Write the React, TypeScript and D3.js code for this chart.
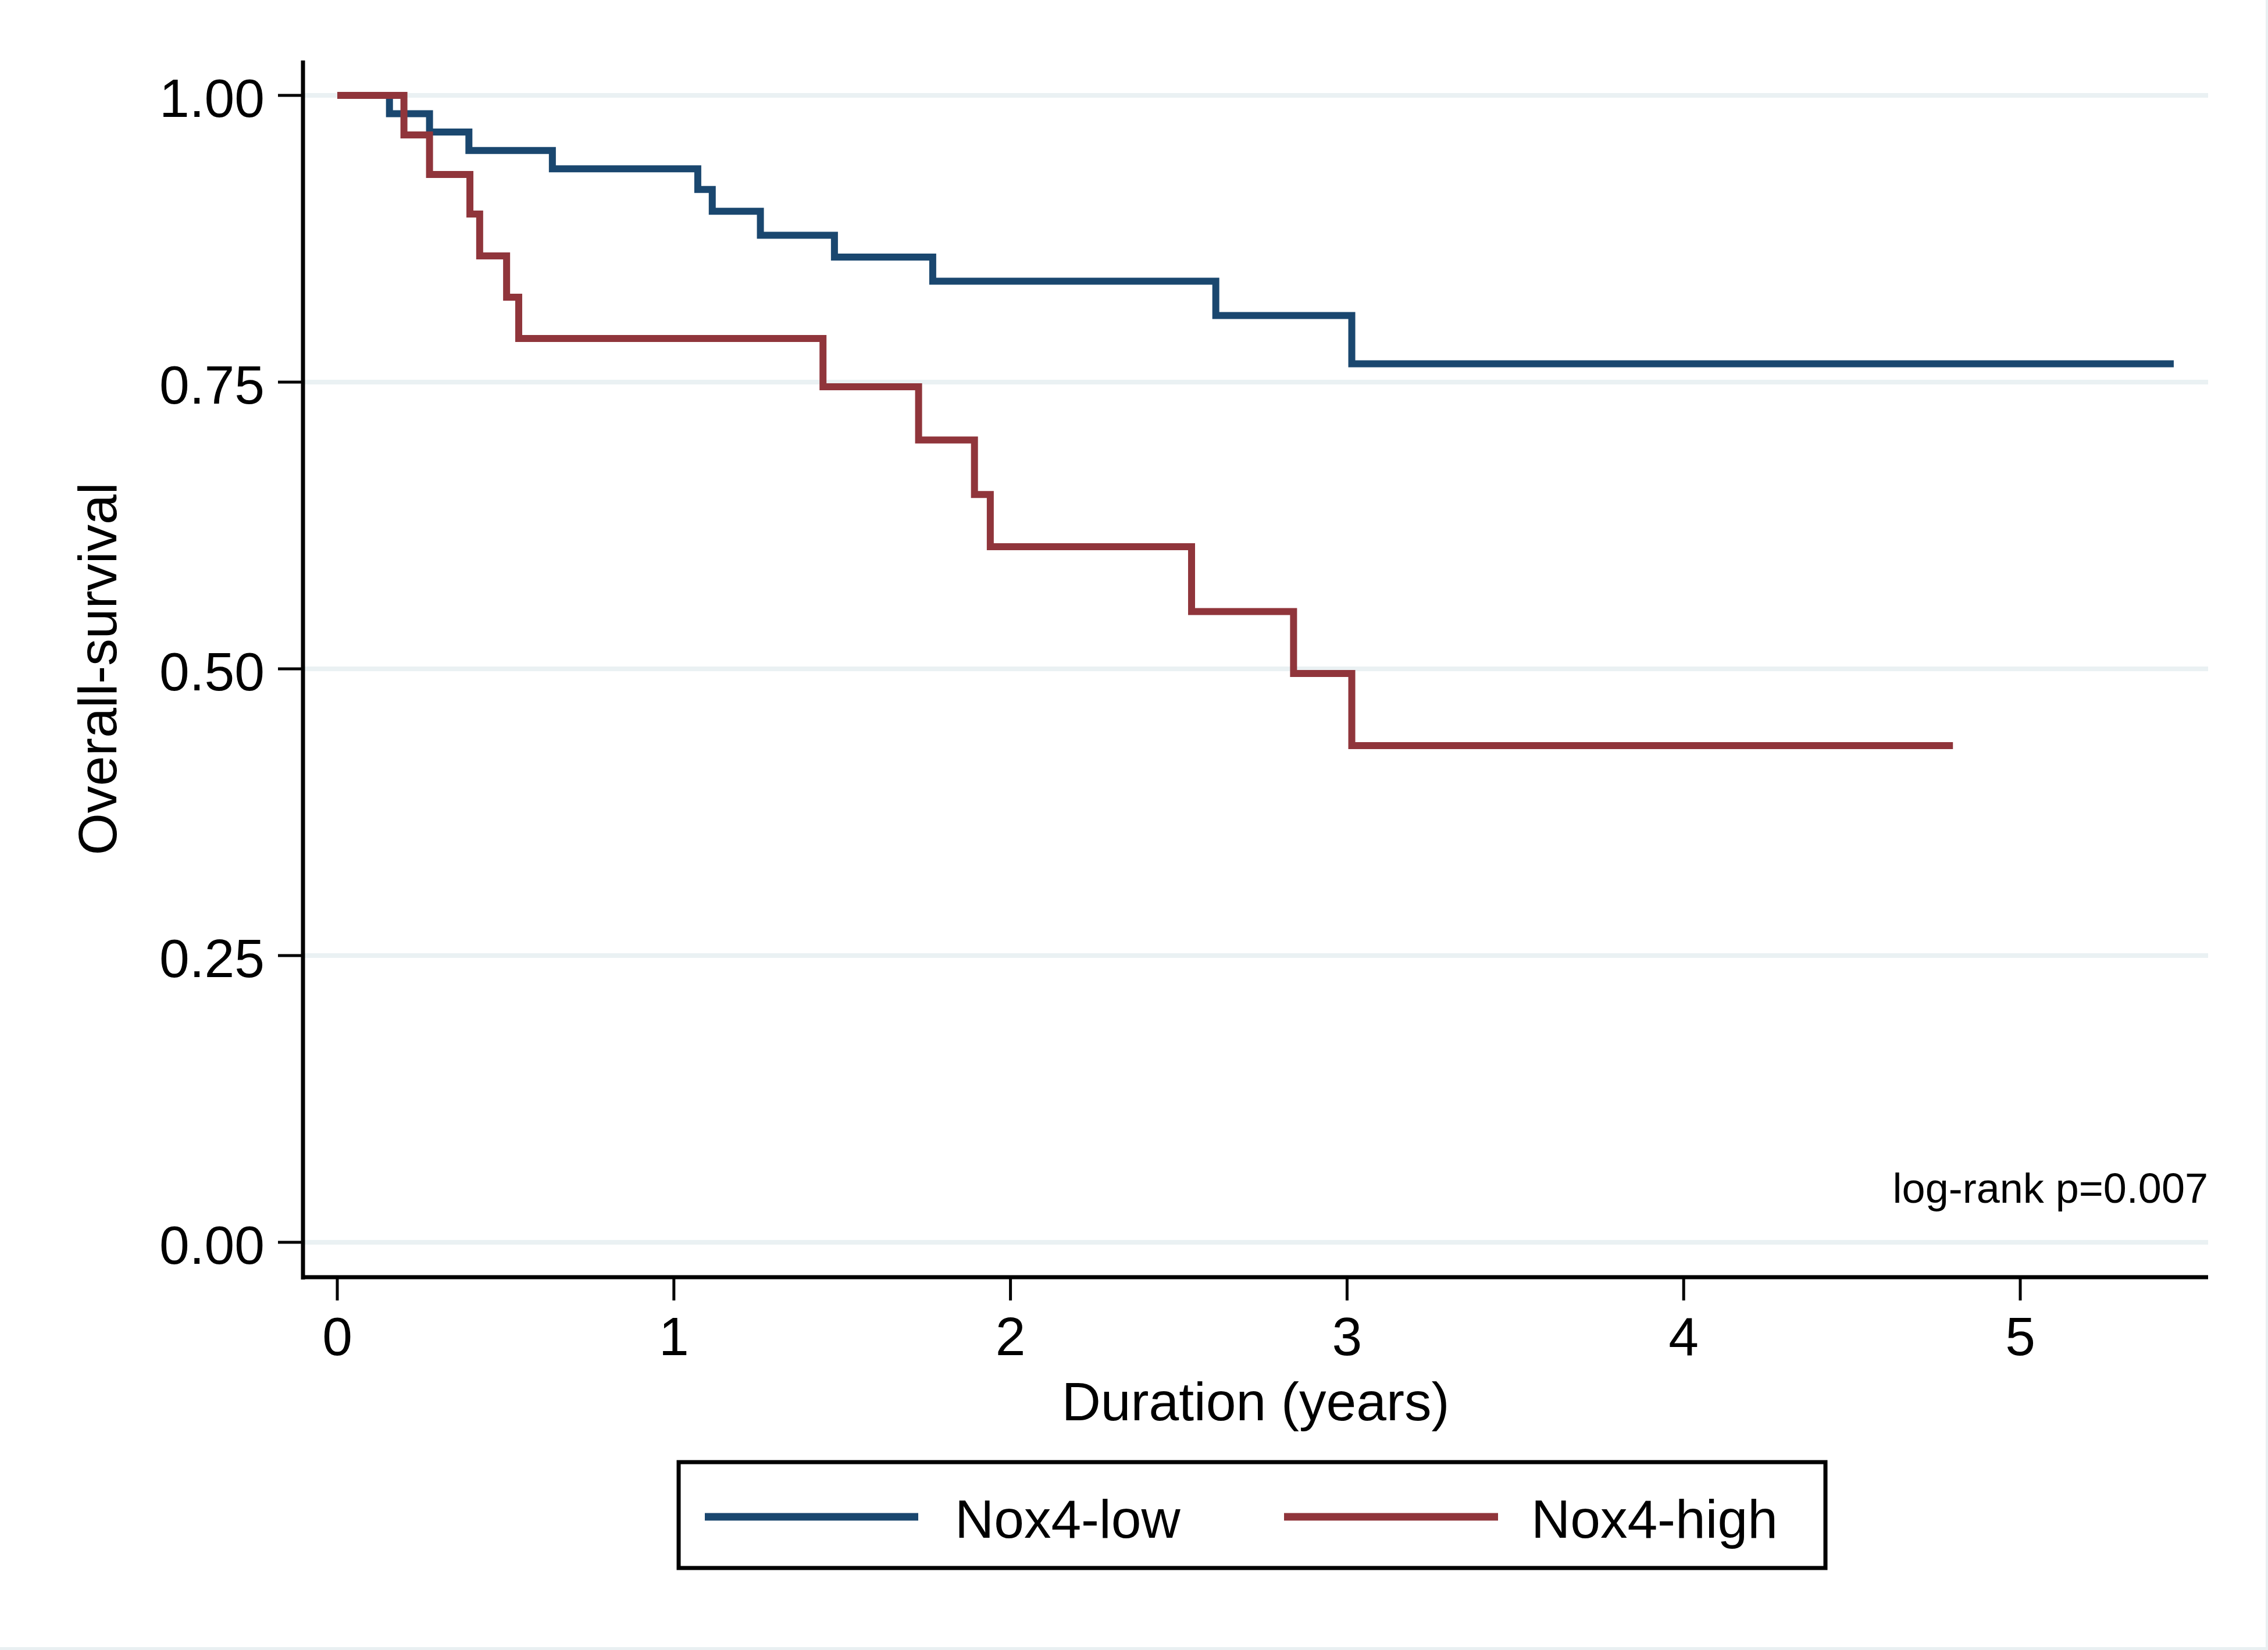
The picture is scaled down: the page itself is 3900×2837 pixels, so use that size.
import React from "react";
import * as d3 from "d3";

// ---- data ----
const xTicks = [0, 1, 2, 3, 4, 5];
const yTicks = [0, 0.25, 0.5, 0.75, 1.0];

const lowTimes = [0, 0.155, 0.274, 0.391, 0.639, 1.071, 1.114, 1.257, 1.477, 1.769, 2.61, 3.014, 5.456];
const lowSurv = [1.0, 0.984, 0.968, 0.952, 0.936, 0.918, 0.899, 0.878, 0.859, 0.838, 0.808, 0.766, 0.766];

const highTimes = [0, 0.198, 0.274, 0.394, 0.423, 0.503, 0.539, 1.443, 1.727, 1.893, 1.94, 2.538, 2.841, 3.014, 4.8];
const highSurv = [1.0, 0.9655, 0.931, 0.8966, 0.86, 0.824, 0.788, 0.746, 0.6995, 0.652, 0.6065, 0.55, 0.496, 0.433, 0.433];

const seriesNames = ["Nox4-low", "Nox4-high"];
const seriesColors = ["#1A476F", "#90353B"];

const W = 3900;
const H = 2837;
const FONT = "'Liberation Sans', Arial, Helvetica, sans-serif";

export default function App() {
  const plotLeft = 521;
  const plotRight = 3797;
  const plotTop = 104;
  const plotBottom = 2196;

  const x = d3.scaleLinear().domain([0, 5]).range([580, 3474]);
  const y = d3.scaleLinear().domain([0, 1]).range([2136, 164]);

  const line = d3
    .line<[number, number]>()
    .x((d) => x(d[0]))
    .y((d) => y(d[1]))
    .curve(d3.curveStepAfter);

  const lowPts: [number, number][] = lowTimes.map((t, i) => [t, lowSurv[i]]);
  const highPts: [number, number][] = highTimes.map((t, i) => [t, highSurv[i]]);

  const cx = (plotLeft + plotRight) / 2;
  const cy = (plotTop + plotBottom) / 2;

  return (
    <svg
      width={W}
      height={H}
      style={{ position: "absolute", left: 0, top: 0, display: "block" }}
      fontFamily={FONT}
    >
      <rect x={0} y={0} width={W} height={H} fill="#E9F0F2" />
      <rect x={0} y={0} width={W - 4} height={H - 5} fill="#FFFFFF" />

      {/* gridlines */}
      {yTicks.map((v) => (
        <line
          key={"g" + v}
          x1={plotLeft}
          x2={plotRight}
          y1={y(v)}
          y2={y(v)}
          stroke="#EAF1F3"
          strokeWidth={8}
        />
      ))}

      {/* curves */}
      <path d={line(lowPts) || ""} fill="none" stroke={seriesColors[0]} strokeWidth={12} strokeLinejoin="miter" strokeLinecap="butt" />
      <path d={line(highPts) || ""} fill="none" stroke={seriesColors[1]} strokeWidth={12} strokeLinejoin="miter" strokeLinecap="butt" />

      {/* axes */}
      <line x1={plotLeft} x2={plotLeft} y1={plotTop} y2={plotBottom + 4} stroke="#000" strokeWidth={7} />
      <line x1={plotLeft - 3} x2={plotRight} y1={plotBottom} y2={plotBottom} stroke="#000" strokeWidth={7} />

      {yTicks.map((v) => (
        <g key={"yt" + v}>
          <line x1={plotLeft - 43} x2={plotLeft} y1={y(v)} y2={y(v)} stroke="#000" strokeWidth={5} />
          <text x={455} y={y(v) + 37} textAnchor="end" fontSize={93} fill="#000">
            {d3.format(".2f")(v)}
          </text>
        </g>
      ))}

      {xTicks.map((t) => (
        <g key={"xt" + t}>
          <line x1={x(t)} x2={x(t)} y1={plotBottom} y2={plotBottom + 40} stroke="#000" strokeWidth={5} />
          <text x={x(t)} y={2330} textAnchor="middle" fontSize={93} fill="#000">
            {t}
          </text>
        </g>
      ))}

      {/* axis titles */}
      <text x={cx} y={2442} textAnchor="middle" fontSize={93} fill="#000">
        Duration (years)
      </text>
      <text
        transform={`translate(200, ${cy}) rotate(-90)`}
        textAnchor="middle"
        fontSize={93}
        fill="#000"
      >
        Overall-survival
      </text>

      {/* annotation */}
      <text x={3797} y={2068} textAnchor="end" fontSize={72} fill="#000">
        log-rank p=0.007
      </text>

      {/* legend */}
      <rect x={1167} y={2514} width={1972} height={182} fill="#FFF" stroke="#000" strokeWidth={7} />
      <line x1={1212} x2={1579} y1={2608} y2={2608} stroke={seriesColors[0]} strokeWidth={13} />
      <text x={1642} y={2644} fontSize={93} fill="#000">
        {seriesNames[0]}
      </text>
      <line x1={2208} x2={2576} y1={2608} y2={2608} stroke={seriesColors[1]} strokeWidth={13} />
      <text x={2633} y={2644} fontSize={93} fill="#000">
        {seriesNames[1]}
      </text>
    </svg>
  );
}
